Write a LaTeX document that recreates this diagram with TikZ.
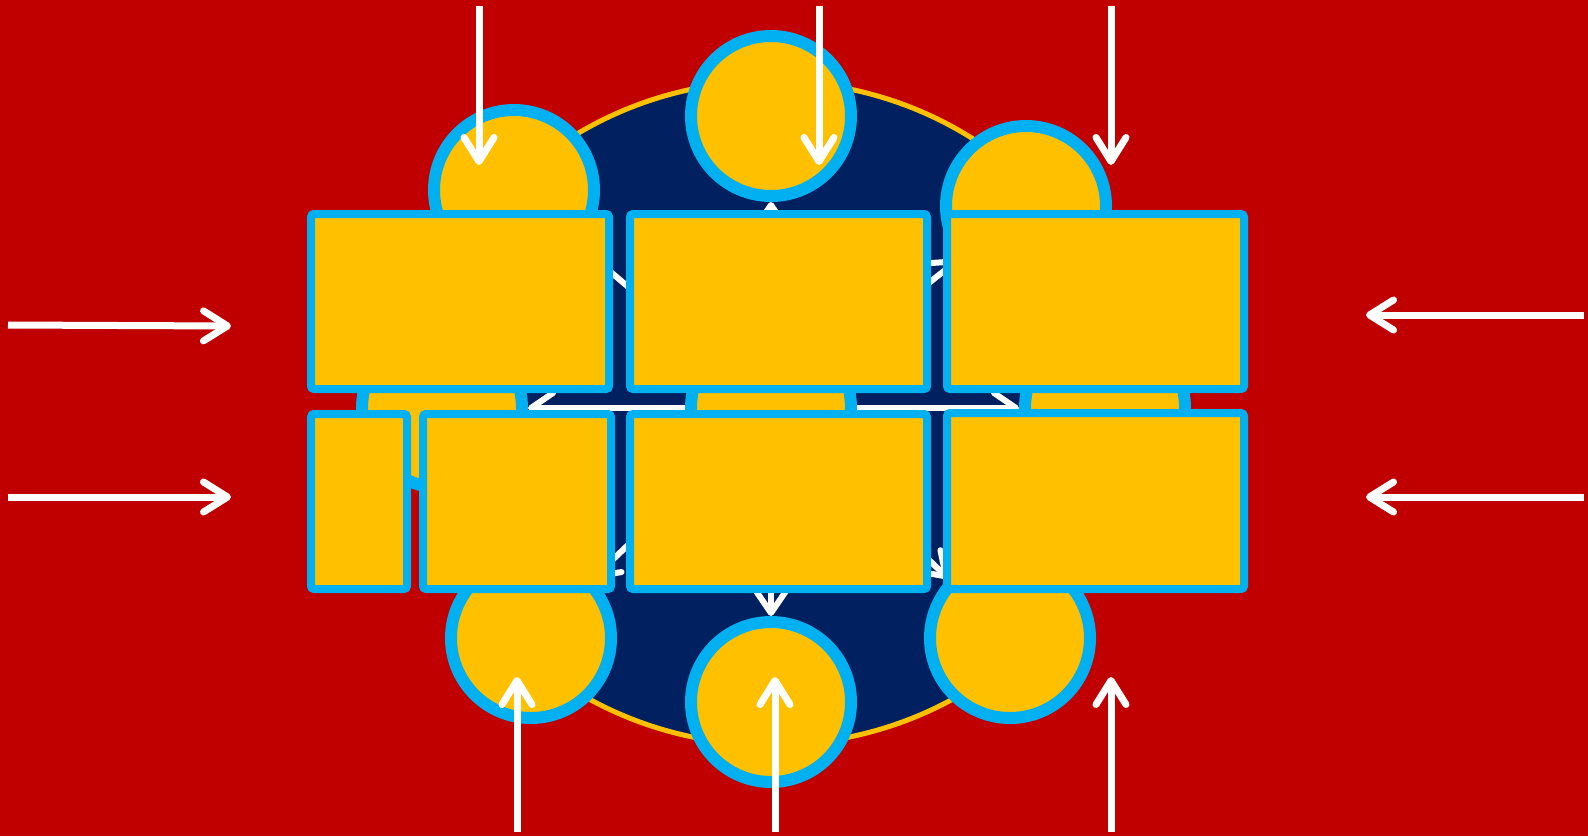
\documentclass[tikz,border=0pt]{standalone}
\usetikzlibrary{arrows.meta}
\definecolor{bgred}{HTML}{C00000}
\definecolor{navyb}{HTML}{002060}
\definecolor{goldb}{HTML}{FFC000}
\definecolor{cyanb}{HTML}{00B0F0}
\begin{document}
\begin{tikzpicture}[x=1pt,y=-1pt,
  circ/.style={circle, draw=cyanb, fill=goldb, line width=12pt, minimum size=160pt, inner sep=0pt},
  panel/.style={draw=cyanb, fill=goldb, line width=8pt, rounded corners=3pt, inner sep=0pt},
  inarrow/.style={draw=white, line width=6pt, -{Straight Barb[length=22pt,width=30pt,round]}},
  outarrow/.style={draw=white, line width=7pt, -{Straight Barb[length=24pt,width=30pt,round]}}]
\fill[bgred] (0,0) rectangle (1588,836);
\useasboundingbox (0,0) rectangle (1588,836);
% big ellipse
\draw[fill=navyb, draw=goldb, line width=5pt] (771,413) ellipse [x radius=358pt, y radius=332pt];
% circles
\node[circ] (c)  at (771,408) {};
\node[circ] (t)  at (771,116) {};
\node[circ] (tl) at (514,190) {};
\node[circ] (tr) at (1026,206) {};
\node[circ] (l)  at (442,408) {};
\node[circ] (r)  at (1105,408) {};
\node[circ] (bl) at (531,638) {};
\node[circ] (b)  at (771,702) {};
\node[circ] (br) at (1010,638) {};
% inner arrows
\foreach \n in {t,tl,tr,l,r,bl,b,br}{\draw[inarrow] (c) -- (\n);}
% boxes
\node[panel, minimum width=298pt, minimum height=175pt] (box1) at (460,301.5) {};
\node[panel, minimum width=297pt, minimum height=175pt] (box2) at (778.5,301.5) {};
\node[panel, minimum width=297pt, minimum height=175pt] (box3) at (1095.5,301.5) {};
\node[panel, minimum width=96pt, minimum height=175pt] (box4) at (359,501.5) {};
\node[panel, minimum width=188pt, minimum height=175pt] (box5) at (517,501.5) {};
\node[panel, minimum width=297pt, minimum height=175pt] (box6) at (778.5,501.5) {};
\node[panel, minimum width=297pt, minimum height=176pt] (box7) at (1095.5,501) {};
% outer arrows
\coordinate (s1) at (479,6);   \coordinate (e1) at (479,165);
\coordinate (s2) at (819,6);   \coordinate (e2) at (819,165);
\coordinate (s3) at (1111,6);  \coordinate (e3) at (1111,165);
\coordinate (s4) at (517,832); \coordinate (e4) at (517,677);
\coordinate (s5) at (775,832); \coordinate (e5) at (775,677);
\coordinate (s6) at (1111,832);\coordinate (e6) at (1111,677);
\coordinate (s7) at (8,325);   \coordinate (e7) at (231,326);
\coordinate (s8) at (8,497);   \coordinate (e8) at (231,497);
\coordinate (s9) at (1584,315);\coordinate (e9) at (1366,315);
\coordinate (s10) at (1584,497);\coordinate (e10) at (1366,497);
\foreach \i in {1,...,10}{\draw[outarrow] (s\i) -- (e\i);}
\end{tikzpicture}
\end{document}
